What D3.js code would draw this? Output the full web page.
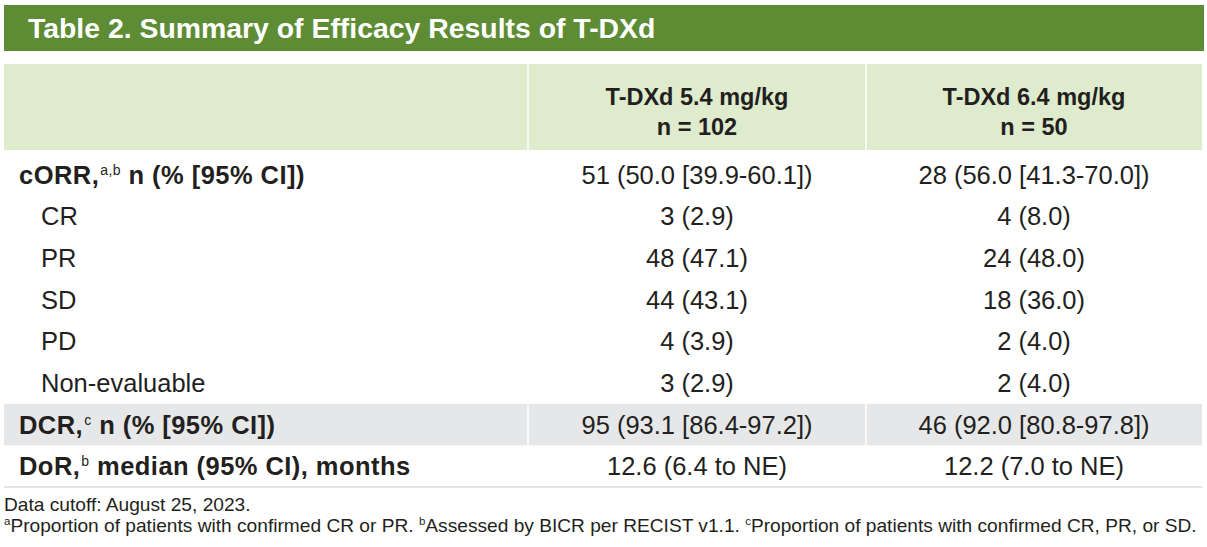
<!DOCTYPE html>
<html>
<head>
<meta charset="utf-8">
<script src="https://cdn.jsdelivr.net/npm/d3@7"></script>
<style>
  html, body { margin: 0; padding: 0; background: #ffffff; }
  svg { display: block; }
  text { font-family: "Liberation Sans", Arial, Helvetica, sans-serif; fill: #231f20; }
</style>
</head>
<body>
<svg id="chart" width="1207" height="547"></svg>
<script>
// ---- data ----
const titleText = "Table 2. Summary of Efficacy Results of T-DXd";
const groups = ["T-DXd 5.4 mg/kg", "T-DXd 6.4 mg/kg"];
const groupN = ["n = 102", "n = 50"];
const rowLabels = ["cORR,", "CR", "PR", "SD", "PD", "Non-evaluable", "DCR,", "DoR,"];
const rowSups = ["a,b", "", "", "", "", "", "c", "b"];
const rowTails = [" n (% [95% CI])", "", "", "", "", "", " n (% [95% CI])", " median (95% CI), months"];
const rowBold = [true, false, false, false, false, false, true, true];
const rowShaded = [false, false, false, false, false, false, true, false];
const dose54 = ["51 (50.0 [39.9-60.1])", "3 (2.9)", "48 (47.1)", "44 (43.1)", "4 (3.9)", "3 (2.9)", "95 (93.1 [86.4-97.2])", "12.6 (6.4 to NE)"];
const dose64 = ["28 (56.0 [41.3-70.0])", "4 (8.0)", "24 (48.0)", "18 (36.0)", "2 (4.0)", "2 (4.0)", "46 (92.0 [80.8-97.8])", "12.2 (7.0 to NE)"];
const footnotes = [
  [["", "Data cutoff: August 25, 2023."]],
  [["a", "Proportion of patients with confirmed CR or PR. "], ["b", "Assessed by BICR per RECIST v1.1. "], ["c", "Proportion of patients with confirmed CR, PR, or SD."]]
];

// ---- layout ----
const svg = d3.select("#chart");
const colEdges = [4, 528, 866, 1202];
const x = d3.scaleOrdinal().domain([0, 1]).range([colEdges[1], colEdges[2]]);
const colW = i => colEdges[i + 2] - colEdges[i + 1];
const y = d3.scaleBand().domain(d3.range(rowLabels.length)).range([154, 487]).paddingInner(0).paddingOuter(0);
const bodySize = 25.5;

// title bar
svg.append("rect").attr("x", 4).attr("y", 5).attr("width", 1200).attr("height", 46).attr("fill", "#5e8c35");
svg.append("text").attr("x", 28).attr("y", 38).attr("font-size", 28.4).attr("font-weight", "bold")
  .style("fill", "#ffffff").text(titleText);

// header band
svg.append("rect").attr("x", 4).attr("y", 64).attr("width", 1198).attr("height", 86).attr("fill", "#deebcd");
groups.forEach((g, i) => {
  const cx = x(i) + colW(i) / 2;
  svg.append("text").attr("x", cx).attr("y", 105).attr("text-anchor", "middle")
    .attr("font-size", 23.5).attr("font-weight", "bold").text(g);
  svg.append("text").attr("x", cx).attr("y", 135).attr("text-anchor", "middle")
    .attr("font-size", 23.5).attr("font-weight", "bold").text(groupN[i]);
});

// shaded rows
rowLabels.forEach((r, i) => {
  if (rowShaded[i]) {
    svg.append("rect").attr("x", 4).attr("y", y(i)).attr("width", 1198).attr("height", y.bandwidth())
      .attr("fill", "#e6e7e8");
  }
});

// white column separators in header & shaded rows
[colEdges[1], colEdges[2]].forEach(cx => {
  svg.append("line").attr("x1", cx).attr("x2", cx).attr("y1", 64).attr("y2", 150)
    .attr("stroke", "#ffffff").attr("stroke-width", 1.5);
  rowLabels.forEach((r, i) => {
    if (rowShaded[i]) svg.append("line").attr("x1", cx).attr("x2", cx).attr("y1", y(i)).attr("y2", y(i) + y.bandwidth())
      .attr("stroke", "#ffffff").attr("stroke-width", 1.5);
  });
});

// bottom rule
svg.append("line").attr("x1", 4).attr("x2", 1202).attr("y1", 487).attr("y2", 487)
  .attr("stroke", "#e3e4e5").attr("stroke-width", 2);

// row labels
rowLabels.forEach((r, i) => {
  const cy = y(i) + y.bandwidth() / 2 + 9;
  const t = svg.append("text").attr("x", rowBold[i] ? 19 : 41).attr("y", cy)
    .attr("font-size", bodySize).attr("font-weight", rowBold[i] ? "bold" : "normal")
    .attr("letter-spacing", rowBold[i] ? 0.45 : 0);
  t.append("tspan").text(r);
  if (rowSups[i]) t.append("tspan").attr("font-size", 14).attr("dy", -9).attr("dx", 1).attr("font-weight", "normal").text(rowSups[i]);
  if (rowTails[i]) t.append("tspan").attr("dy", rowSups[i] ? 9 : 0).text(rowTails[i]);
});

// values
[dose54, dose64].forEach((vals, c) => {
  svg.selectAll(null).data(vals).enter().append("text")
    .attr("x", x(c) + colW(c) / 2)
    .attr("y", (d, i) => y(i) + y.bandwidth() / 2 + 9)
    .attr("text-anchor", "middle").attr("font-size", bodySize)
    .text(d => d);
});

// footnotes
footnotes.forEach((parts, k) => {
  const t = svg.append("text").attr("x", 4).attr("y", 511 + k * 20.5).attr("font-size", 19.15);
  parts.forEach(([sup, txt]) => {
    if (sup) {
      t.append("tspan").attr("font-size", 11.5).attr("dy", -6.5).text(sup);
      t.append("tspan").attr("dy", 6.5).text(txt);
    } else t.append("tspan").text(txt);
  });
});
</script>
</body>
</html>
